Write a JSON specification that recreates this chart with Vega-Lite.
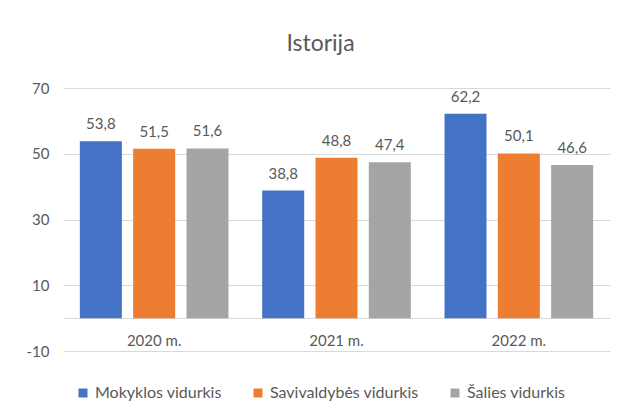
{
  "$schema": "https://vega.github.io/schema/vega-lite/v6.json",
  "width": 547,
  "height": 263,
  "autosize": {"type": "none"},
  "padding": {"left": 63, "top": 88, "right": 11, "bottom": 64},
  "background": "white",
  "config": {
    "font": "Lato",
    "view": {"stroke": null},
    "locale": {"number": {"decimal": ",", "thousands": " ", "grouping": [3], "currency": ["", " €"], "minus": "-"}}
  },
  "title": {
    "text": "Istorija",
    "fontSize": 23,
    "fontWeight": "normal",
    "color": "#595959",
    "anchor": "middle",
    "dx": -16,
    "offset": 25
  },
  "data": {
    "values": [
      {"year": "2020 m.", "series": "Mokyklos vidurkis", "value": 53.8},
      {"year": "2020 m.", "series": "Savivaldybės vidurkis", "value": 51.5},
      {"year": "2020 m.", "series": "Šalies vidurkis", "value": 51.6},
      {"year": "2021 m.", "series": "Mokyklos vidurkis", "value": 38.8},
      {"year": "2021 m.", "series": "Savivaldybės vidurkis", "value": 48.8},
      {"year": "2021 m.", "series": "Šalies vidurkis", "value": 47.4},
      {"year": "2022 m.", "series": "Mokyklos vidurkis", "value": 62.2},
      {"year": "2022 m.", "series": "Savivaldybės vidurkis", "value": 50.1},
      {"year": "2022 m.", "series": "Šalies vidurkis", "value": 46.6}
    ]
  },
  "encoding": {
    "x": {
      "field": "year",
      "type": "nominal",
      "scale": {"paddingInner": 0, "paddingOuter": 0},
      "axis": {
        "title": null,
        "orient": "bottom",
        "offset": -33,
        "domain": true,
        "domainColor": "#D9D9D9",
        "domainWidth": 1,
        "ticks": false,
        "labelAngle": 0,
        "labelColor": "#595959",
        "labelFontSize": 15,
        "labelBaseline": "top",
        "labelPadding": 15
      }
    },
    "xOffset": {
      "field": "series",
      "type": "nominal",
      "scale": {"paddingInner": 0.212, "paddingOuter": 0.316}
    },
    "y": {
      "field": "value",
      "type": "quantitative",
      "scale": {"domain": [-10, 70], "nice": false, "zero": false},
      "axis": {
        "title": null,
        "values": [-10, 10, 30, 50, 70],
        "domain": false,
        "ticks": false,
        "gridColor": "#D9D9D9",
        "gridWidth": 1,
        "labelColor": "#595959",
        "labelFontSize": 15,
        "labelPadding": 14
      }
    }
  },
  "layer": [
    {
      "mark": {"type": "bar"},
      "encoding": {
        "y2": {"datum": 0},
        "color": {
          "field": "series",
          "type": "nominal",
          "scale": {
            "domain": ["Mokyklos vidurkis", "Savivaldybės vidurkis", "Šalies vidurkis"],
            "range": ["#4472C4", "#ED7D31", "#A5A5A5"]
          },
          "legend": {
            "title": null,
            "orient": "none",
            "direction": "horizontal",
            "legendX": 12,
            "legendY": 297,
            "symbolType": "square",
            "symbolSize": 81,
            "symbolStrokeWidth": 0,
            "symbolOpacity": 1,
            "labelColor": "#595959",
            "labelFontSize": 16,
            "labelOffset": 4,
            "columnPadding": 28
          }
        }
      }
    },
    {
      "mark": {"type": "text", "baseline": "middle", "dy": -17, "fontSize": 15, "color": "#595959"},
      "encoding": {
        "text": {"field": "value", "type": "quantitative", "format": ".1f"}
      }
    }
  ]
}
